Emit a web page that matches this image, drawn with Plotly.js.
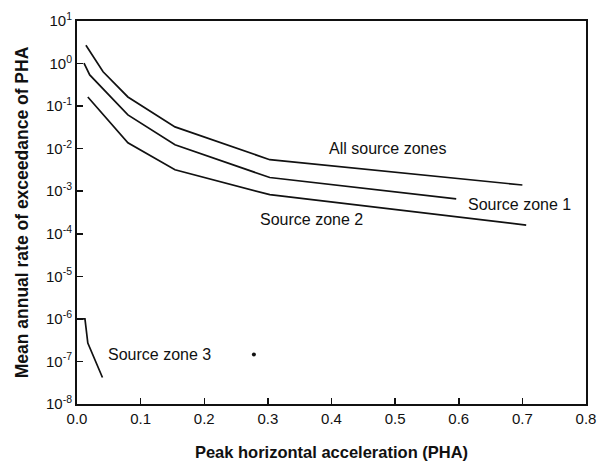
<!DOCTYPE html>
<html>
<head>
<meta charset="utf-8">
<script src="https://cdn.plot.ly/plotly-3.0.1.min.js"></script>
<style>html,body{margin:0;padding:0;background:#fff;}</style>
</head>
<body>
<div id="chart" style="width:599px;height:464px;"></div>
<script>
// Data
const allX = [0.014, 0.041, 0.08, 0.154, 0.303, 0.70];
const allY = [2.7, 0.64, 0.164, 0.0325, 0.0055, 0.0014];
const z1X = [0.011, 0.02, 0.08, 0.154, 0.303, 0.596];
const z1Y = [1.03, 0.54, 0.062, 0.0123, 0.0021, 0.00066];
const z2X = [0.017, 0.08, 0.154, 0.303, 0.706];
const z2Y = [0.164, 0.0137, 0.0032, 0.00083, 0.00016];
const z3X = [0.0, 0.0125, 0.017, 0.04];
const z3Y = [1e-6, 1e-6, 2.7e-7, 4.2e-8];
const dotX = [0.278];
const dotY = [1.45e-7];

const yTickVals = [1e1,1e0,1e-1,1e-2,1e-3,1e-4,1e-5,1e-6,1e-7,1e-8];
const yTickText = ['10<sup>1</sup>','10<sup>0</sup>','10<sup>-1</sup>','10<sup>-2</sup>','10<sup>-3</sup>','10<sup>-4</sup>','10<sup>-5</sup>','10<sup>-6</sup>','10<sup>-7</sup>','10<sup>-8</sup>'];
const xTickVals = [0,0.1,0.2,0.3,0.4,0.5,0.6,0.7,0.8];
const xTickText = ['0.0','0.1','0.2','0.3','0.4','0.5','0.6','0.7','0.8'];

const labels = [
  {text:'All source zones', x:0.488, y:0.010, anchor:'center'},
  {text:'Source zone 1', x:0.612, y:Math.pow(10,-3.32), anchor:'left'},
  {text:'Source zone 2', x:0.284, y:Math.pow(10,-3.67), anchor:'left'},
  {text:'Source zone 3', x:0.045, y:Math.pow(10,-6.84), anchor:'left'}
];

const lineStyle = {color:'#111', width:1.7};
const traces = [
  {x:allX, y:allY, mode:'lines', line:lineStyle, hoverinfo:'skip'},
  {x:z1X, y:z1Y, mode:'lines', line:lineStyle, hoverinfo:'skip'},
  {x:z2X, y:z2Y, mode:'lines', line:lineStyle, hoverinfo:'skip'},
  {x:z3X, y:z3Y, mode:'lines', line:lineStyle, hoverinfo:'skip'},
  {x:dotX, y:dotY, mode:'markers', marker:{color:'#111', size:4}, hoverinfo:'skip'}
];

const fam = 'Liberation Sans, Arial, sans-serif';
const font = {family:fam, size:15, color:'#111'};

const layout = {
  width:599, height:464,
  margin:{l:77, r:13, t:21, b:60},
  showlegend:false,
  paper_bgcolor:'#fff', plot_bgcolor:'#fff',
  font:font,
  xaxis:{
    range:[0,0.8], tickvals:xTickVals, ticktext:xTickText,
    ticks:'inside', ticklen:6, tickwidth:1.5, tickcolor:'#111',
    showline:true, linecolor:'#111', linewidth:2, mirror:true,
    showgrid:false, zeroline:false,
    tickfont:{family:fam, size:15, color:'#111'},
    title:{text:'<b>Peak horizontal acceleration (PHA)</b>', font:{family:fam, size:16.5, color:'#111'}, standoff:20}
  },
  yaxis:{
    type:'log', range:[-8,1], tickvals:yTickVals, ticktext:yTickText,
    ticks:'inside', ticklen:6, tickwidth:1.5, tickcolor:'#111',
    showline:true, linecolor:'#111', linewidth:2, mirror:true,
    showgrid:false, zeroline:false,
    tickfont:{family:fam, size:15, color:'#111'},
    title:{text:'<b>Mean annual rate of exceedance of PHA</b>', font:{family:fam, size:17.5, color:'#111'}, standoff:13}
  },
  annotations: labels.map(l => ({
    x:l.x, y:Math.log10(l.y), xref:'x', yref:'y', text:l.text, showarrow:false,
    xanchor:l.anchor, yanchor:'middle', font:{family:fam, size:16, color:'#111'}
  }))
};

Plotly.newPlot('chart', traces, layout, {displayModeBar:false, staticPlot:true});
</script>
</body>
</html>
